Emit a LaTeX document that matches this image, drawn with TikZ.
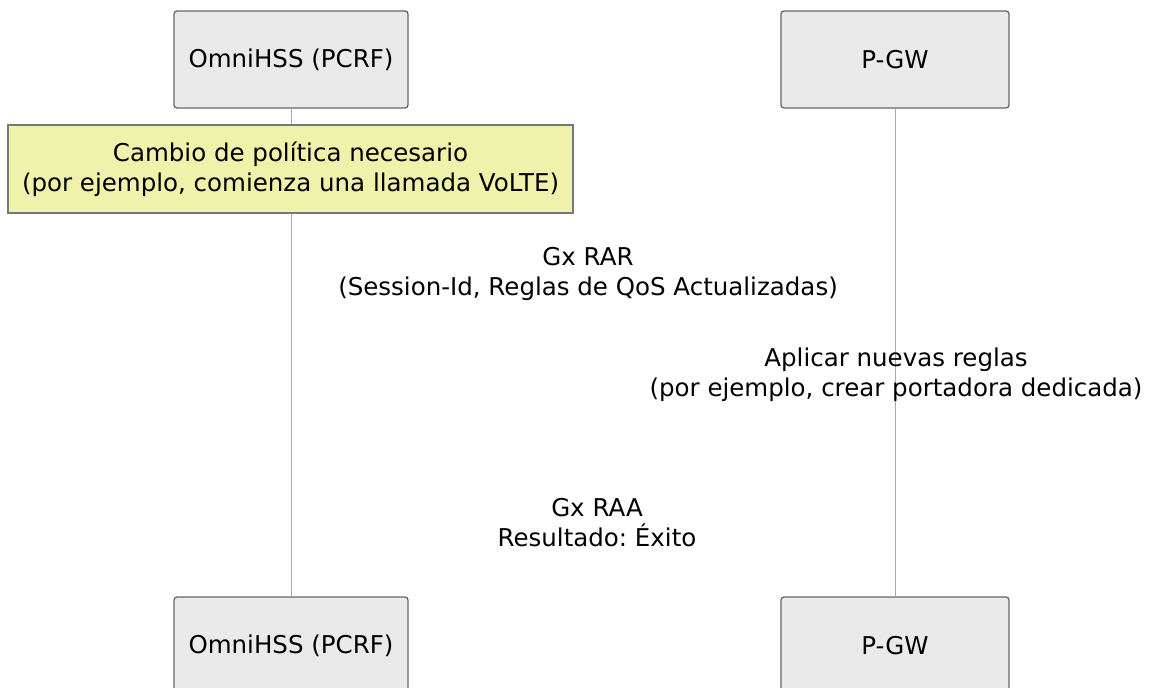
\documentclass[tikz,border=0pt]{standalone}
\usepackage{fontspec}
\setmainfont{DejaVu Sans}
\usepackage{tikz}
\usetikzlibrary{positioning}
\frenchspacing
\definecolor{actorfill}{RGB}{234,234,234}
\definecolor{actorline}{RGB}{102,102,102}
\definecolor{notefill}{RGB}{238,242,170}
\definecolor{noteline}{RGB}{119,119,119}
\definecolor{lifeline}{RGB}{170,170,170}
\tikzset{
  actor/.style={draw=actorline,fill=actorfill,line width=1.3pt,rounded corners=3pt,
    minimum height=97pt,inner sep=0pt,font=\fontsize{24.5}{30}\selectfont},
  note/.style={draw=noteline,fill=notefill,line width=1.3pt,minimum height=88pt,
    minimum width=565pt,inner sep=0pt,align=center,font=\fontsize{24.5}{30}\selectfont},
  msg/.style={align=center,inner sep=0pt,font=\fontsize{24.5}{30}\selectfont},
  life/.style={draw=lifeline,line width=0.9pt}
}
\begin{document}
\begin{tikzpicture}[x=1pt,y={(0pt,-1pt)}]
  \useasboundingbox (0,0) rectangle (1149,688);

  % Actors
  \node[actor,minimum width=234pt] (pcrf) at (291,59.5) {OmniHSS (PCRF)};
  \node[actor,minimum width=228pt] (pgw) at (895,59.5) {P-GW};
  \node[actor,minimum width=234pt] (pcrfbot) at (291,645.5) {OmniHSS (PCRF)};
  \node[actor,minimum width=228pt] (pgwbot) at (895,645.5) {P-GW};

  % Lifelines
  \draw[life] (pcrf.south) -- (pcrfbot.north);
  \draw[life] (pgw.south) -- (pgwbot.north);

  % Note
  \node[note] (policynote) at (290.5,169) {Cambio de política necesario\\(por ejemplo, comienza una llamada VoLTE)};

  % Messages
  \node[msg] (rarlabel) at (588,274) {Gx RAR\\(Session-Id, Reglas de QoS Actualizadas)};
  \node[msg] (applylabel) at (896,375) {Aplicar nuevas reglas\\(por ejemplo, crear portadora dedicada)};
  \node[msg] (raalabel) at (597,523) {Gx RAA\\Resultado: Éxito};

\end{tikzpicture}
\end{document}
